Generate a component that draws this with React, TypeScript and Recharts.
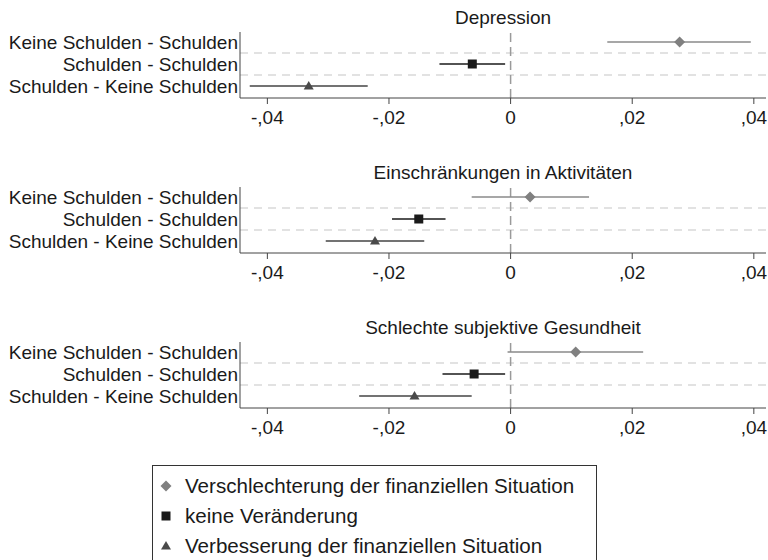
import React from "react";
import { ScatterChart, Scatter, XAxis, YAxis, ReferenceLine, ErrorBar } from "recharts";

const panelTitles = ["Depression", "Einschränkungen in Aktivitäten", "Schlechte subjektive Gesundheit"];
const rowLabels = ["Schulden - Keine Schulden", "Schulden - Schulden", "Keine Schulden - Schulden"]; // y = 1, 2, 3
const xTicks = [-0.04, -0.02, 0, 0.02, 0.04];

// Verschlechterung der finanziellen Situation (Keine Schulden - Schulden)
const worseEst = [0.0278, 0.0032, 0.0107];
const worseLo = [0.0159, -0.0064, -0.0005];
const worseHi = [0.0395, 0.0129, 0.0218];
// keine Veränderung (Schulden - Schulden)
const sameEst = [-0.0063, -0.0151, -0.006];
const sameLo = [-0.0117, -0.0195, -0.0112];
const sameHi = [-0.0009, -0.0107, -0.0009];
// Verbesserung der finanziellen Situation (Schulden - Keine Schulden)
const betterEst = [-0.0332, -0.0223, -0.0158];
const betterLo = [-0.0429, -0.0304, -0.0249];
const betterHi = [-0.0235, -0.0142, -0.0064];

const legendLabels = [
  "Verschlechterung der finanziellen Situation",
  "keine Veränderung",
  "Verbesserung der finanziellen Situation",
];

const FONT = "'Liberation Sans', Arial, Helvetica, sans-serif";
const FS = 19;
const LFS = 20.6;

const series = [
  { est: worseEst, lo: worseLo, hi: worseHi, row: 3, color: "#808080", line: "#8a8a8a", kind: "diamond" },
  { est: sameEst, lo: sameLo, hi: sameHi, row: 2, color: "#1a1a1a", line: "#1a1a1a", kind: "square" },
  { est: betterEst, lo: betterLo, hi: betterHi, row: 1, color: "#4a4a4a", line: "#444444", kind: "triangle" },
];

function Marker(props: any) {
  const { cx, cy, kind, fill } = props;
  if (cx == null || cy == null) return null;
  if (kind === "diamond") {
    return <path d={`M${cx},${cy - 5.5}L${cx + 5.5},${cy}L${cx},${cy + 5.5}L${cx - 5.5},${cy}Z`} fill={fill} />;
  }
  if (kind === "square") {
    return <rect x={cx - 4.5} y={cy - 4.5} width={9} height={9} fill={fill} />;
  }
  return <path d={`M${cx},${cy - 5}L${cx + 5},${cy + 3.5}L${cx - 5},${cy + 3.5}Z`} fill={fill} />;
}

const fmt = (v: number) => {
  if (v === 0) return "0";
  const s = v.toFixed(2).replace(".", ",");
  return s.replace(/^(-?)0,/, "$1,");
};

function Panel({ idx, top }: { idx: number; top: number }) {
  return (
    <div style={{ position: "absolute", left: 0, top, width: 768, height: 130 }}>
      <div
        style={{
          position: "absolute",
          left: 240,
          width: 526,
          top: 7,
          lineHeight: "22px",
          textAlign: "center",
          fontFamily: FONT,
          fontSize: FS,
          color: "#1a1a1a",
        }}
      >
        {panelTitles[idx]}
      </div>
      <ScatterChart width={768} height={130} margin={{ top: 32, right: 2, bottom: 0, left: 0 }}>
        <XAxis
          type="number"
          dataKey="x"
          domain={[-0.0445, 0.042]}
          ticks={xTicks}
          tickFormatter={fmt}
          allowDataOverflow
          interval={0}
          height={32}
          tickSize={6}
          tickMargin={7}
          stroke="#444"
          tick={{ fill: "#1a1a1a", fontSize: FS, fontFamily: FONT }}
        />
        <YAxis
          type="number"
          dataKey="y"
          domain={[0.4545, 3.4545]}
          ticks={[1, 2, 3]}
          tickFormatter={(v: number) => rowLabels[v - 1]}
          allowDataOverflow
          interval={0}
          width={240}
          tickSize={0}
          tickMargin={2}
          stroke="#444"
          tick={{ fill: "#1a1a1a", fontSize: FS, fontFamily: FONT }}
        />
        <ReferenceLine y={2.5} stroke="#d9d9d9" strokeWidth={1.5} strokeDasharray="8 6" />
        <ReferenceLine y={1.5} stroke="#d9d9d9" strokeWidth={1.5} strokeDasharray="8 6" />
        <ReferenceLine x={0} stroke="#9a9a9a" strokeWidth={1.5} strokeDasharray="9 5" />
        {series.map((s, i) => (
          <Scatter
            key={i}
            isAnimationActive={false}
            data={[{ x: s.est[idx], y: s.row, err: [s.est[idx] - s.lo[idx], s.hi[idx] - s.est[idx]] }]}
            fill={s.color}
            shape={(p: any) => <Marker {...p} kind={s.kind} fill={s.color} />}
          >
            <ErrorBar dataKey="err" direction="x" width={0} stroke={s.line} strokeWidth={1.6} />
          </Scatter>
        ))}
      </ScatterChart>
    </div>
  );
}

function LegendIcon({ kind, color }: { kind: string; color: string }) {
  return (
    <svg width={14} height={14} style={{ position: "absolute", left: 6, top: 8 }}>
      <Marker cx={7} cy={7} kind={kind} fill={color} />
    </svg>
  );
}

export default function App() {
  return (
    <div
      style={{
        position: "absolute",
        left: 0,
        top: 0,
        width: 768,
        height: 560,
        background: "#fff",
        overflow: "hidden",
      }}
    >
      <Panel idx={0} top={0} />
      <Panel idx={1} top={155} />
      <Panel idx={2} top={310} />
      <div
        style={{
          position: "absolute",
          left: 152,
          top: 465,
          width: 445,
          height: 110,
          border: "1.5px solid #333",
          boxSizing: "border-box",
        }}
      >
        {series.map((s, i) => (
          <div
            key={i}
            style={{
              position: "absolute",
              left: 0,
              top: 5 + i * 30,
              height: 30,
              width: 440,
            }}
          >
            <LegendIcon kind={s.kind} color={s.color} />
            <span
              style={{
                position: "absolute",
                left: 32,
                top: 0,
                lineHeight: "30px",
                fontFamily: FONT,
                fontSize: LFS,
                color: "#1a1a1a",
                whiteSpace: "nowrap",
              }}
            >
              {legendLabels[i]}
            </span>
          </div>
        ))}
      </div>
    </div>
  );
}
